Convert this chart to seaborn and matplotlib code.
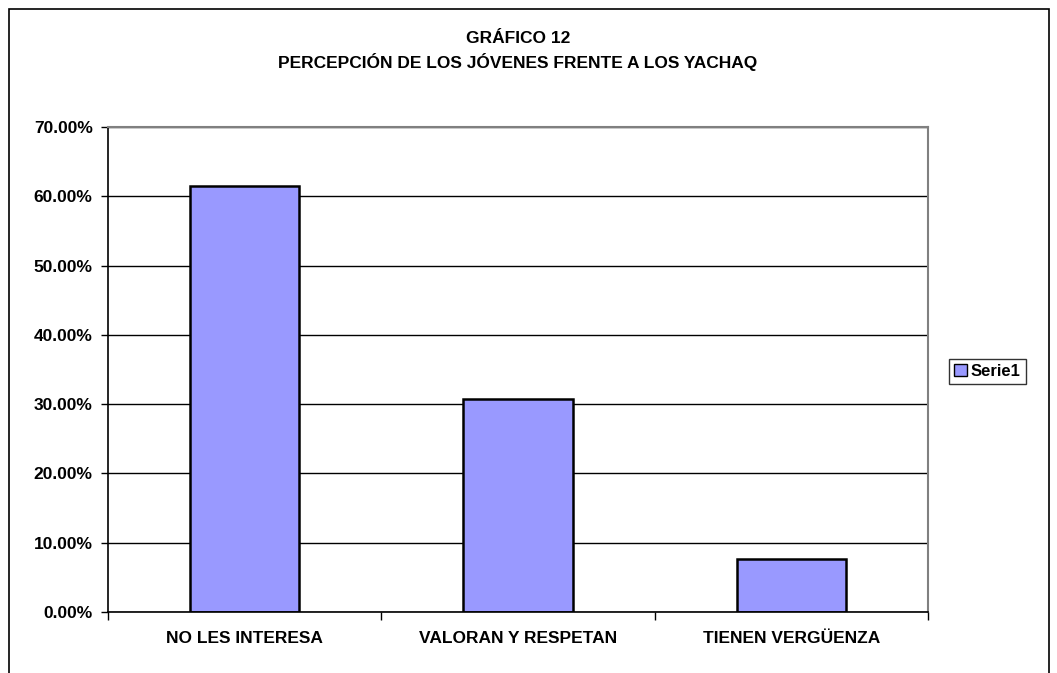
import matplotlib
matplotlib.use("Agg")
import matplotlib.pyplot as plt
import matplotlib.patches as mpatches
import seaborn as sns
import pandas as pd
from matplotlib.ticker import FixedLocator, PercentFormatter

categorias = ["NO LES INTERESA", "VALORAN Y RESPETAN", "TIENEN VERGÜENZA"]
valores = [61.54, 30.77, 7.69]
serie = "Serie1"
titulo = "GRÁFICO 12\nPERCEPCIÓN DE LOS JÓVENES FRENTE A LOS YACHAQ"

sns.set_theme(style="white")
plt.rcParams["font.family"] = ["Liberation Sans", "DejaVu Sans"]
plt.rcParams["font.weight"] = "bold"
plt.rcParams["text.color"] = "black"
plt.rcParams["xtick.color"] = "black"
plt.rcParams["ytick.color"] = "black"

df = pd.DataFrame({"Categoria": categorias, "Porcentaje": valores})

fig = plt.figure(figsize=(10.57, 6.73), dpi=100)
ax = fig.add_axes([108 / 1057, 1 - 612 / 673, 820 / 1057, 485 / 673])

sns.barplot(data=df, x="Categoria", y="Porcentaje", color="#9999FF",
            saturation=1, width=0.4, edgecolor="black", linewidth=1.8, ax=ax)

ax.set_ylim(0, 70)
ax.set_xlim(-0.5, 2.5)
ax.set_yticks(range(0, 80, 10))
ax.yaxis.set_major_formatter(PercentFormatter(decimals=2))
ax.yaxis.grid(True, color="black", linewidth=1)
ax.set_axisbelow(True)
ax.set_xlabel("")
ax.set_ylabel("")

ax.tick_params(axis="y", left=True, length=5, width=1, color="black",
               labelcolor="black", labelsize=12.5, pad=6)
ax.tick_params(axis="x", bottom=False, labelcolor="black", labelsize=12.5, pad=8)
ax.xaxis.set_minor_locator(FixedLocator([-0.5, 0.5, 1.5, 2.5]))
ax.tick_params(axis="x", which="minor", bottom=True, length=6, width=1,
               color="black")
for lbl in ax.get_xticklabels() + ax.get_yticklabels():
    lbl.set_fontweight("bold")

for side in ["top", "right"]:
    ax.spines[side].set_visible(True)
    ax.spines[side].set_color("#808080")
    ax.spines[side].set_linewidth(1.5)
for side in ["left", "bottom"]:
    ax.spines[side].set_color("black")
    ax.spines[side].set_linewidth(1.2)

fig.text(518 / 1057, 1 - 51 / 673, titulo, ha="center", va="center",
         fontsize=12.5, fontweight="bold", linespacing=1.45, color="black")

handle = mpatches.Patch(facecolor="#9999FF", edgecolor="black", label=serie)
leg = fig.legend(handles=[handle], loc="center left",
                 bbox_to_anchor=(941 / 1057, 1 - 371 / 673),
                 frameon=True, fancybox=False,
                 handlelength=0.75, handleheight=0.75, handletextpad=0.25,
                 borderpad=0.3, prop={"weight": "bold", "size": 12})
leg.get_frame().set_edgecolor("black")
leg.get_frame().set_linewidth(1)
for t in leg.get_texts():
    t.set_color("black")

fig.patches.append(mpatches.Rectangle((9 / 1057, -0.05), 1040 / 1057, 0.05 + 1 - 9 / 673,
                                      transform=fig.transFigure, fill=False,
                                      edgecolor="black", linewidth=1.2))

fig.savefig("out.png", dpi=100)
